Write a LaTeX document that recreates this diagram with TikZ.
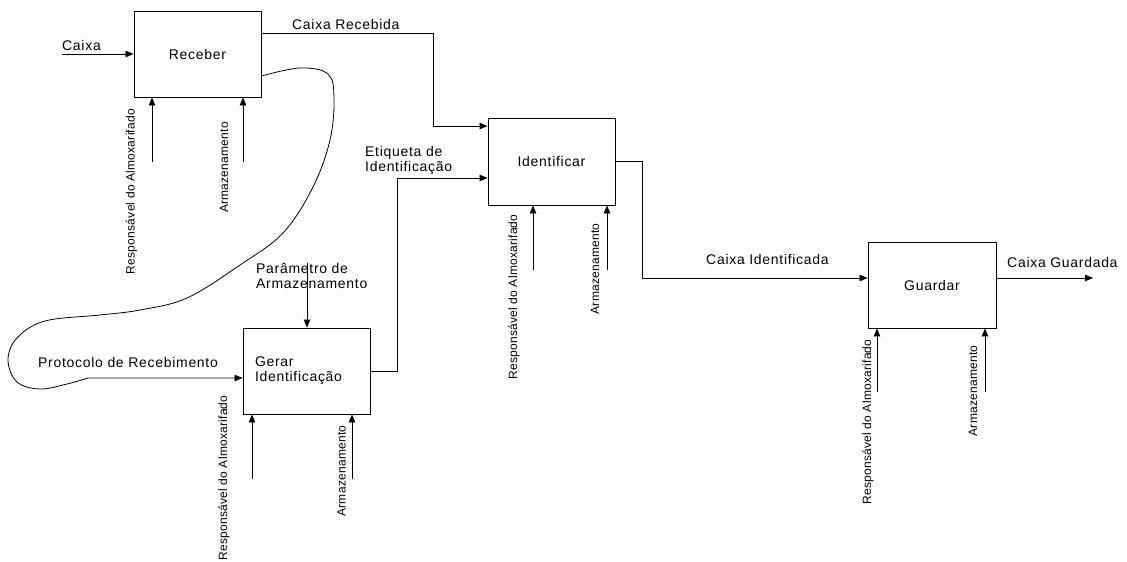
\documentclass[tikz,border=0pt]{standalone}
\usepackage{fontspec}
\setmainfont{Liberation Sans}
\newfontfamily\lblfont[LetterSpace=5]{Liberation Sans}
\newfontfamily\rotfont[LetterSpace=2]{Liberation Sans}
\usetikzlibrary{arrows.meta}
\begin{document}
\begin{tikzpicture}[x=1pt,y=-1pt,
  box/.style={draw, line width=0.9pt, minimum width=127pt, minimum height=86pt, inner sep=0pt, font=\lblfont\fontsize{14}{15}\selectfont},
  lbl/.style={font=\lblfont\fontsize{14}{15}\selectfont, inner sep=0pt, anchor=west, align=left},
  rot/.style={font=\rotfont\fontsize{12}{13}\selectfont, rotate=90, inner sep=0pt},
  arr/.style={line width=0.8pt, -{Triangle[length=8pt,width=6.5pt]}},
]
\useasboundingbox (0,0) rectangle (1127,562);

% boxes
\node[box] (receber) at (197.5,54) {Receber};
\node[box, minimum height=87pt] (identificar) at (551.5,161.5) {Identificar};
\node[box, text width=103pt, inner xsep=12pt, align=left] (gerar) at (306.5,371) {Gerar\\Identificação};
\node[box, minimum width=128pt] (guardar) at (932,285) {Guardar};

% inputs / outputs
\coordinate (caixaIn) at (62,54);
\draw[arr] (caixaIn) -- (receber.west);
\node[lbl] (lcaixa) at (62,45) {Caixa};

\draw[arr] (receber.east |- 0,33) -| (433,126) -- (identificar.west |- 0,126);
\node[lbl] (lrecebida) at (292,24) {Caixa Recebida};

\draw[arr] (gerar.east) -| (397,178) -- (identificar.west |- 0,178);
\node[lbl] (letiqueta) at (365,160.5) {Etiqueta de\\Identificação};

\draw[arr] (identificar.east) -| (642,278) -- (guardar.west |- 0,278);
\node[lbl] (lident) at (706,259) {Caixa Identificada};

\coordinate (saida) at (1093,278);
\draw[arr] (guardar.east |- saida) -- (saida);
\node[lbl] (lguardada) at (1007,262) {Caixa Guardada};

\coordinate (param) at (307,263);
\draw[arr] (param) -- (gerar.north -| param);
\node[lbl] (lparam) at (256,275.5) {Parâmetro de\\Armazenamento};

\draw[arr] plot[smooth, tension=0.6] coordinates {(receber.east |- 0,76) (300,68) (328,74) (334,98) (330,140) (313,187) (283,233) (240,265) (187,298) (140,310) (100,315) (45,321) (17,338) (8,360) (17,382) (40,389) (67,384) (88,378)} -- (gerar.west |- 0,378);
\node[lbl] (lprot) at (38,362) {Protocolo de Recebimento};

% mechanisms
\coordinate (r1) at (152,162);
\coordinate (r2) at (243,162);
\draw[arr] (r1) -- (receber.south -| r1);
\draw[arr] (r2) -- (receber.south -| r2);
\node[rot] (lr1) at (131.5,191.5) {Responsável do Almoxarifado};
\node[rot] (lr2) at (224,167.5) {Armazenamento};

\coordinate (g1) at (252,479);
\coordinate (g2) at (352,479);
\draw[arr] (g1) -- (gerar.south -| g1);
\draw[arr] (g2) -- (gerar.south -| g2);
\node[rot] (lg1) at (224,478) {Responsável do Almoxarifado};
\node[rot] (lg2) at (341.5,471) {Armazenamento};

\coordinate (i1) at (533,270);
\coordinate (i2) at (607,270);
\draw[arr] (i1) -- (identificar.south -| i1);
\draw[arr] (i2) -- (identificar.south -| i2);
\node[rot] (li1) at (514,297) {Responsável do Almoxarifado};
\node[rot] (li2) at (595,269) {Armazenamento};

\coordinate (u1) at (877,392);
\coordinate (u2) at (985,392);
\draw[arr] (u1) -- (guardar.south -| u1);
\draw[arr] (u2) -- (guardar.south -| u2);
\node[rot] (lu1) at (868,422) {Responsável do Almoxarifado};
\node[rot] (lu2) at (973,391) {Armazenamento};
\end{tikzpicture}
\end{document}
